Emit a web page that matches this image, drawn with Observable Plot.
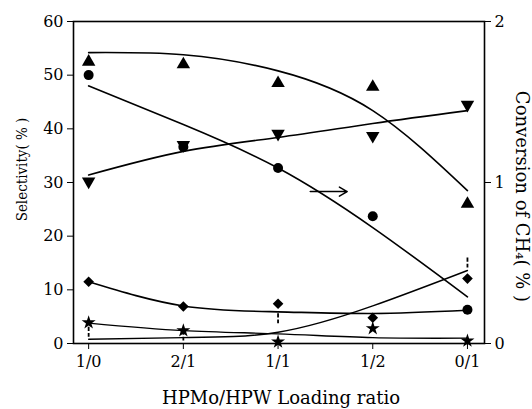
<!DOCTYPE html>
<html>
<head>
<meta charset="utf-8">
<script src="https://cdn.jsdelivr.net/npm/d3@7"></script>
<script src="https://cdn.jsdelivr.net/npm/@observablehq/plot@0.6"></script>
<style>
  html, body { margin: 0; padding: 0; background: #fff; }
  #chart svg { display: block; }
</style>
</head>
<body>
<div id="chart"></div>
<script>
// Categories (x)
const ratios = ["1/0", "2/1", "1/1", "1/2", "0/1"];
// Selectivity series (%), left axis
const triUp      = [52.5, 52.0, 48.5, 47.8, 26.0];
const triUpFit   = [54.2, 53.8, 50.8, 43.4, 28.5];
const triDown    = [30.2, 37.0, 39.1, 38.7, 44.5];
const triDownFit = [31.4, 35.8, 38.4, 41.0, 43.4];
const diamond    = [11.5, 6.9, 7.4, 4.8, 12.1];
const diamondFit = [11.5, 7.0, 5.9, 5.6, 6.2];
const star       = [3.9, 2.4, 0.3, 2.8, 0.5];
const starFit    = [3.8, 2.4, 1.8, 1.1, 1.0];
const dash       = [2.2, 1.5, 4.7, null, 15.1];
const dashFit    = [0.8, 1.1, 2.1, 7.0, 13.6];
// Conversion of CH4 (%), right axis
const convCircle = [1.667, 1.22, 1.09, 0.79, 0.21];
const convFit    = [1.60, 1.36, 1.09, 0.72, 0.29];
// Axis ticks
const leftTicks = [0, 10, 20, 30, 40, 50, 60];
const rightTicks = [0, 1, 2];
const convToSel = 30; // right axis 0..2 maps to left 0..60
// Arrow annotation (points toward right axis series)
const arrowAnno = [{x1: 2.34, x2: 2.73, y: 28.3}];

const idx = ratios.map((_, i) => i);
const rows = (vals) => idx.map(i => ({i, v: vals[i]})).filter(d => d.v != null);

const dashSymbol = {
  draw(ctx, size) {
    const r = Math.sqrt(size / Math.PI);
    ctx.moveTo(0, -r); ctx.lineTo(0, -r * 0.15);
    ctx.moveTo(0, r * 0.25); ctx.lineTo(0, r);
  }
};

const font = "'DejaVu Serif', 'Liberation Serif', serif";
const condensed = "'DejaVu Serif Condensed', 'Liberation Serif', serif";
const lineOpt = {x: "i", y: "v", curve: "natural", stroke: "black", strokeWidth: 1.6};

const chart = Plot.plot({
  width: 532,
  height: 409,
  marginLeft: 73,
  marginRight: 48,
  marginTop: 21,
  marginBottom: 66,
  style: {fontFamily: font, fontSize: "16px", color: "black", background: "white"},
  x: {domain: [-0.16, 4.18]},
  y: {domain: [0, 60]},
  marks: [
    Plot.frame({stroke: "black", strokeWidth: 1.6}),
    Plot.axisX({ticks: idx, tickFormat: i => ratios[i], tickSize: 6, tickPadding: 6, label: null, fontSize: 16}),
    Plot.axisY({ticks: leftTicks, tickSize: 6, tickPadding: 4, label: null, fontSize: 16}),
    Plot.axisY({anchor: "right", ticks: rightTicks.map(t => t * convToSel), tickFormat: v => String(v / convToSel), tickSize: 6, tickPadding: 4, label: null, fontSize: 16}),
    // fitted curves
    Plot.line(rows(triUpFit), lineOpt),
    Plot.line(rows(triDownFit), lineOpt),
    Plot.line(rows(convFit).map(d => ({i: d.i, v: d.v * convToSel})), lineOpt),
    Plot.line(rows(diamondFit), lineOpt),
    Plot.line(rows(starFit), {...lineOpt, strokeWidth: 1.4}),
    Plot.line(rows(dashFit), {...lineOpt, strokeWidth: 1.4}),
    // markers
    Plot.dot(rows(triUp), {x: "i", y: "v", symbol: "triangle", r: 5, fill: "black"}),
    Plot.dot(rows(triDown), {x: "i", y: "v", symbol: "triangle", rotate: 180, r: 5, fill: "black"}),
    Plot.dot(rows(convCircle).map(d => ({i: d.i, v: d.v * convToSel})), {x: "i", y: "v", symbol: "circle", r: 5, fill: "black"}),
    Plot.dot(rows(diamond), {x: "i", y: "v", symbol: "diamond2", r: 4.8, fill: "black"}),
    Plot.dot(rows(star), {x: "i", y: "v", symbol: "star", r: 4.4, fill: "black"}),
    Plot.dot(rows(dash), {x: "i", y: "v", symbol: dashSymbol, r: 5, fill: "none", stroke: "black", strokeWidth: 1.8}),
    // arrow annotation
    Plot.arrow(arrowAnno, {x1: "x1", x2: "x2", y1: "y", y2: "y", stroke: "black", strokeWidth: 1.5, headLength: 9}),
    // axis titles
    Plot.text(["Selectivity( % )"], {frameAnchor: "left", textAnchor: "middle", lineAnchor: "middle", dx: -51, dy: -13, rotate: -90, fontSize: 15, fontFamily: condensed, fill: "black"}),
    Plot.text(["Conversion of CH\u2084( % )"], {frameAnchor: "right", textAnchor: "middle", lineAnchor: "middle", dx: 37, dy: 14, rotate: 90, fontSize: 18, fill: "black"}),
    Plot.text(["HPMo/HPW Loading ratio"], {frameAnchor: "bottom", textAnchor: "middle", lineAnchor: "middle", dx: 2, dy: 55, fontSize: 18, fill: "black"})
  ]
});

document.getElementById("chart").appendChild(chart);
</script>
</body>
</html>
